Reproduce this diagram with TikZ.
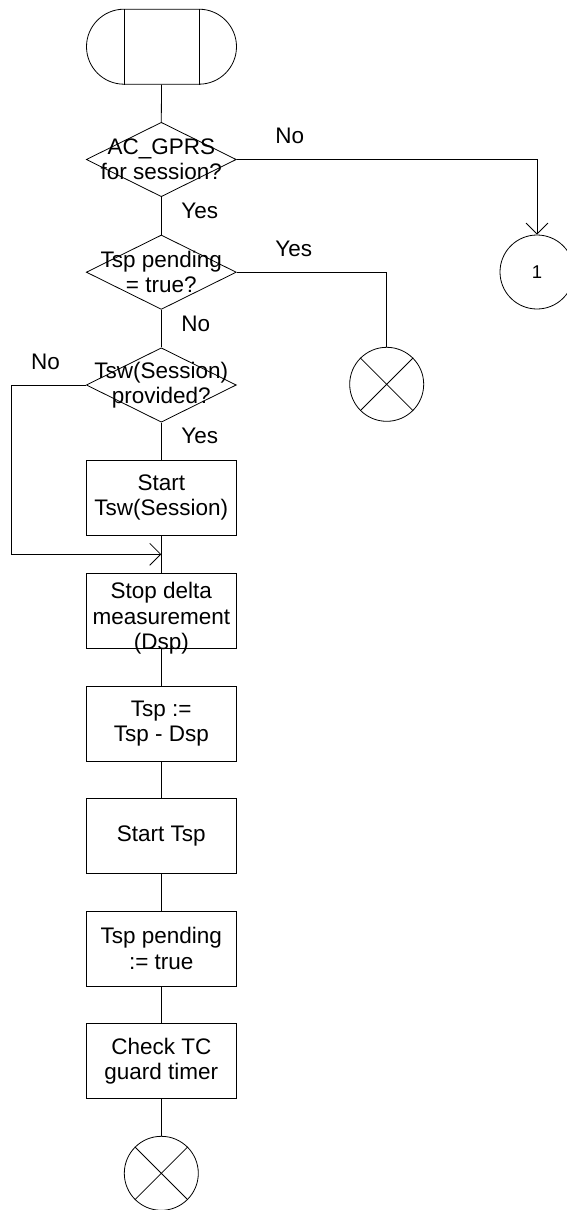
\documentclass[tikz,border=0pt]{standalone}
\usepackage{fontspec}
\setmainfont{Liberation Sans}
\usetikzlibrary{shapes.geometric,shapes.misc,arrows.meta}
\begin{document}
\begin{tikzpicture}[x=1pt,y=-1pt,
  line width=0.8pt,
  every node/.style={font=\fontsize{22.5}{25.5}\selectfont, inner sep=0pt},
  box/.style={draw, rectangle, minimum width=150pt, minimum height=75pt, align=center},
  dec/.style={draw, diamond, minimum width=150pt, minimum height=74.4pt},
  txt/.style={align=center},
  term/.style={draw, rounded rectangle, minimum width=150pt, minimum height=75pt},
  conn/.style={draw, circle, minimum size=74pt},
  lbl/.style={anchor=west},
  flow/.style={-{Straight Barb[length=11pt,width=22pt]}}
]
\useasboundingbox (0,0) rectangle (567,1210);
\clip (0,0) rectangle (567,1210);

% start terminal
\node[term] (start) at (161.5,46.7) {};
\draw ([xshift=-37.5pt]start.north) -- ([xshift=-37.5pt]start.south)
      ([xshift=37.5pt]start.north) -- ([xshift=37.5pt]start.south);

% decisions
\node[dec] (d1) at (161.3,159.5) {};
\node[txt] (d1t) at (161.3,159.5) {AC\_GPRS\\for session?};
\node[dec] (d2) at (161.3,272.2) {};
\node[txt] (d2t) at (161.3,272.2) {Tsp pending\\= true?};
\node[dec] (d3) at (161.3,385) {};
\node[txt] (d3t) at (161.3,385) {Tsw(Session)\\provided?};

% connectors on the right
\node[conn] (c1) at (537,272) {\fontsize{18.5}{20}\selectfont 1};
\node[conn] (x1) at (386.7,384.3) {};
\draw (x1.north west) -- (x1.south east) (x1.north east) -- (x1.south west);

% boxes
\node[box] (b1) at (161.3,497.7) {Start\\Tsw(Session)};
\node[box] (b2) at (161.3,610.8) {};
\node[txt] (b2t) at (161.3,618.5) {Stop delta\\measurement\\(Dsp)};
\node[box] (b3) at (161.3,723.5) {Tsp :=\\Tsp - Dsp};
\node[box] (b4) at (161.3,836) {Start Tsp};
\node[box] (b5) at (161.3,948.5) {Tsp pending\\:= true};
\node[box] (b6) at (161.3,1061.3) {Check TC\\guard timer};

\node[conn] (x2) at (161.3,1173.3) {};
\draw (x2.north west) -- (x2.south east) (x2.north east) -- (x2.south west);

% labels
\node[lbl] (l1) at (275,135.5) {No};
\node[lbl] (l2) at (181,211) {Yes};
\node[lbl] (l3) at (275,249) {Yes};
\node[lbl] (l4) at (181,323.7) {No};
\node[lbl] (l5) at (30.7,361.7) {No};
\node[lbl] (l6) at (181,436.3) {Yes};

% coordinates
\coordinate (lft) at (11.7,554.3);
\coordinate (join) at (161.3,554.3);

% flow lines
\draw (start.south) -- (d1.north);
\draw (d1.south) -- (d2.north);
\draw[flow] (d1.east) -| (c1.north);
\draw (d2.east) -| (x1.north);
\draw (d2.south) -- (d3.north);
\draw (d3.south) -- (b1.north);
\draw[flow] (d3.west) -| (lft) -- (join);
\draw (b1.south) -- (b2.north);
\draw (b2.south) -- (b3.north);
\draw (b3.south) -- (b4.north);
\draw (b4.south) -- (b5.north);
\draw (b5.south) -- (b6.north);
\draw (b6.south) -- (x2.north);
\end{tikzpicture}
\end{document}
